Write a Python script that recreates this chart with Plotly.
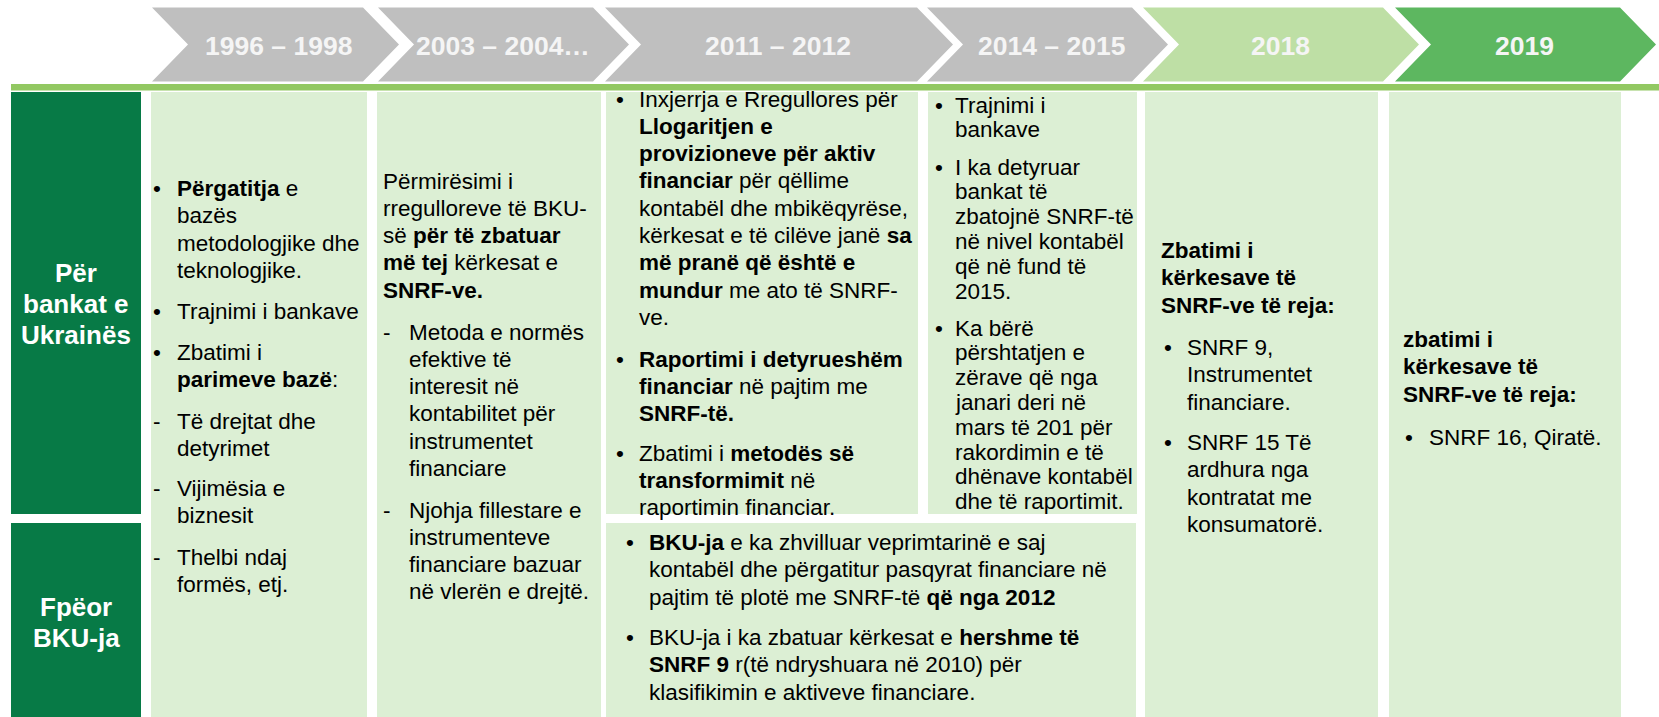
import plotly.graph_objects as go

# ---------------- content ----------------
periods = ["1996 – 1998", "2003 – 2004…", "2011 – 2012", "2014 – 2015", "2018", "2019"]
row_labels = [["Për", "bankat e", "Ukrainës"], ["Fpëor", "BKU-ja"]]

col1_items = [
    ("•", ["<b>Përgatitja</b> e", "bazës", "metodologjike dhe", "teknologjike."]),
    ("•", ["Trajnimi i bankave"]),
    ("•", ["Zbatimi i", "<b>parimeve bazë</b>:"]),
    ("-", ["Të drejtat dhe", "detyrimet"]),
    ("-", ["Vijimësia e", "biznesit"]),
    ("-", ["Thelbi ndaj", "formës, etj."]),
]
col2_items = [
    ("", ["Përmirësimi i", "rregulloreve të BKU-", "së <b>për të zbatuar</b>",
          "<b>më tej</b> kërkesat e", "<b>SNRF-ve.</b>"]),
    ("-", ["Metoda e normës", "efektive të", "interesit në", "kontabilitet për",
           "instrumentet", "financiare"]),
    ("-", ["Njohja fillestare e", "instrumenteve", "financiare bazuar", "në vlerën e drejtë."]),
]
col3_items = [
    ("•", ["Inxjerrja e Rregullores për", "<b>Llogaritjen e</b>", "<b>provizioneve për aktiv</b>",
           "<b>financiar</b> për qëllime", "kontabël dhe mbikëqyrëse,",
           "kërkesat e të cilëve janë <b>sa</b>", "<b>më pranë që është e</b>",
           "<b>mundur</b> me ato të SNRF-", "ve."]),
    ("•", ["<b>Raportimi i detyrueshëm</b>", "<b>financiar</b> në pajtim me", "<b>SNRF-të.</b>"]),
    ("•", ["Zbatimi i <b>metodës së</b>", "<b>transformimit</b> në", "raportimin financiar."]),
]
col4_items = [
    ("•", ["Trajnimi i", "bankave"]),
    ("•", ["I ka detyruar", "bankat të", "zbatojnë SNRF-të", "në nivel kontabël",
           "që në fund të", "2015."]),
    ("•", ["Ka bërë", "përshtatjen e", "zërave që nga", "janari deri në", "mars të 201 për",
           "rakordimin e të", "dhënave kontabël", "dhe të raportimit."]),
]
bottom_items = [
    ("•", ["<b>BKU-ja</b> e ka zhvilluar veprimtarinë e saj",
           "kontabël dhe përgatitur pasqyrat financiare në",
           "pajtim të plotë me SNRF-të <b>që nga 2012</b>"]),
    ("•", ["BKU-ja i ka zbatuar kërkesat e <b>hershme të</b>",
           "<b>SNRF 9</b> r(të ndryshuara në 2010) për",
           "klasifikimin e aktiveve financiare."]),
]
col5_items = [
    ("", ["<b>Zbatimi i</b>", "<b>kërkesave të</b>", "<b>SNRF-ve të reja:</b>"]),
    ("•", ["SNRF 9,", "Instrumentet", "financiare."]),
    ("•", ["SNRF 15 Të", "ardhura nga", "kontratat me", "konsumatorë."]),
]
col6_items = [
    ("", ["<b>zbatimi i</b>", "<b>kërkesave të</b>", "<b>SNRF-ve të reja:</b>"]),
    ("•", ["SNRF 16, Qiratë."]),
]

# ---------------- layout / style ----------------
W, H = 1659, 717
FONT = "Liberation Sans, Arial, sans-serif"
BODY = 22.5
GRAY, LGREEN, GREEN = "#BFBFBF", "#BEDFA5", "#5DB760"
BOX = "#DCEFD4"
DARK = "#077A46"
LINE = "#92C862"

chev_left = [152, 378, 605, 927, 1143, 1395]
chev_right = [363, 593, 917, 1132, 1383, 1620]
chev_fill = [GRAY, GRAY, GRAY, GRAY, LGREEN, GREEN]
chev_label_x = [278, 503, 778, 1051, 1280, 1524]
CH_TOP, CH_BOT, DEPTH = 7.5, 81.5, 36

shapes = []
annotations = []


def rect(x0, y0, x1, y1, color):
    shapes.append(dict(type="rect", x0=x0, y0=y0, x1=x1, y1=y1, xref="x", yref="y",
                       fillcolor=color, line=dict(width=0), layer="below"))


for L, R, c in zip(chev_left, chev_right, chev_fill):
    mid = (CH_TOP + CH_BOT) / 2
    path = (f"M {L},{CH_TOP} L {R},{CH_TOP} L {R + DEPTH},{mid} L {R},{CH_BOT} "
            f"L {L},{CH_BOT} L {L + DEPTH},{mid} Z")
    shapes.append(dict(type="path", path=path, xref="x", yref="y", fillcolor=c,
                       line=dict(width=0), layer="below"))

for lab, x in zip(periods, chev_label_x):
    annotations.append(dict(x=x, y=45.5, text=f"<b>{lab}</b>", showarrow=False,
                            xanchor="center", yanchor="middle", xref="x", yref="y",
                            font=dict(family=FONT, size=26.5, color="#F5F5F5")))

# green separator line
rect(11, 84, W, 90.5, LINE)

# row header boxes
rect(11, 92, 141, 514, DARK)
rect(11, 523, 141, H, DARK)
# content boxes
rect(151, 92, 367, H, BOX)
rect(377, 92, 601, H, BOX)
rect(606, 92, 918, 514, BOX)
rect(928, 92, 1137, 514, BOX)
rect(606, 523, 1136, H, BOX)
rect(1145, 92, 1378, H, BOX)
rect(1389, 92, 1621, H, BOX)

# row header texts
row_label_y = [272.7, 607]
for lines, y0 in zip(row_labels, row_label_y):
    for i, t in enumerate(lines):
        annotations.append(dict(x=76, y=y0 + i * 31, text=f"<b>{t}</b>", showarrow=False,
                                xanchor="center", yanchor="middle", xref="x", yref="y",
                                font=dict(family=FONT, size=26, color="white")))


def add_block(items, first_y, lh, x_mark, x_text, x_plain):
    for (mark, lines), y0 in zip(items, first_y):
        if mark:
            annotations.append(dict(x=x_mark, y=y0, text=mark, showarrow=False,
                                    xanchor="left", yanchor="middle", xref="x", yref="y",
                                    font=dict(family=FONT, size=BODY, color="black")))
        xt = x_text if mark else x_plain
        for i, t in enumerate(lines):
            annotations.append(dict(x=xt, y=y0 + i * lh, text=t, showarrow=False,
                                    xanchor="left", yanchor="middle", xref="x", yref="y",
                                    font=dict(family=FONT, size=BODY, color="black")))


add_block(col1_items, [188, 311, 352, 421, 488, 557], 27.5, 151, 175, 175)
add_block(col2_items, [181, 332, 510], 27.3, 381, 407, 381)
add_block(col3_items, [99, 359, 453], 27.3, 614, 637, 637)
add_block(col4_items, [105, 167, 328], 24.8, 933, 953, 953)
add_block(bottom_items, [542, 637], 27.5, 624, 647, 647)
add_block(col5_items, [250, 347, 442], 27.5, 1162, 1185, 1159)
add_block(col6_items, [339, 437], 27.5, 1403, 1427, 1401)

fig = go.Figure()
fig.update_layout(
    width=W, height=H,
    margin=dict(l=0, r=0, t=0, b=0),
    paper_bgcolor="white", plot_bgcolor="white",
    xaxis=dict(range=[0, W], visible=False, fixedrange=True),
    yaxis=dict(range=[H, 0], visible=False, fixedrange=True),
    shapes=shapes, annotations=annotations, showlegend=False,
)
fig.write_html("out.html", config={"displayModeBar": False},
               post_script="document.body.style.margin='0';document.body.style.overflow='hidden';")
